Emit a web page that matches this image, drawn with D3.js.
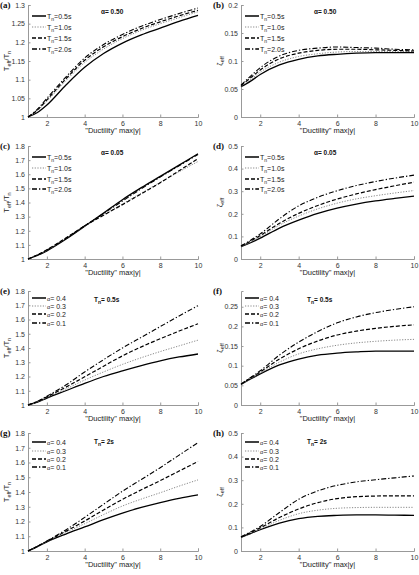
<!DOCTYPE html>
<html><head><meta charset="utf-8">
<script src="https://cdn.jsdelivr.net/npm/d3@7"></script>
<style>body{margin:0;background:#fff}svg{display:block}</style>
</head><body>
<svg id="c" width="419" height="575"></svg>
<script>
// ---------- data ----------
const ductility = [1, 1.5, 2, 3, 4, 5, 6, 7, 8, 9, 10];
const xTicks = [2, 4, 6, 8, 10];

const periodLabels = ["0.5s", "1.0s", "1.5s", "2.0s"];
const alphaLabels = ["0.4", "0.3", "0.2", "0.1"];

// (a) Teff/Tn, alpha = 0.50
const a_T05 = [1.0, 1.012, 1.032, 1.085, 1.133, 1.170, 1.198, 1.220, 1.238, 1.256, 1.272];
const a_T10 = [1.0, 1.017, 1.042, 1.097, 1.146, 1.182, 1.210, 1.232, 1.250, 1.266, 1.282];
const a_T15 = [1.0, 1.019, 1.046, 1.102, 1.152, 1.188, 1.215, 1.237, 1.255, 1.271, 1.286];
const a_T20 = [1.0, 1.021, 1.050, 1.107, 1.158, 1.194, 1.221, 1.243, 1.261, 1.277, 1.292];
// (b) zeta_eff, alpha = 0.50
const b_T05 = [0.054, 0.064, 0.076, 0.093, 0.103, 0.109, 0.112, 0.114, 0.115, 0.115, 0.115];
const b_T10 = [0.055, 0.067, 0.080, 0.098, 0.108, 0.113, 0.116, 0.117, 0.117, 0.117, 0.117];
const b_T15 = [0.056, 0.070, 0.084, 0.104, 0.114, 0.119, 0.121, 0.121, 0.120, 0.119, 0.118];
const b_T20 = [0.057, 0.073, 0.088, 0.109, 0.119, 0.123, 0.125, 0.124, 0.123, 0.121, 0.120];
// (c) Teff/Tn, alpha = 0.05
const c_T05 = [1.0, 1.025, 1.058, 1.140, 1.232, 1.325, 1.420, 1.505, 1.585, 1.665, 1.745];
const c_T10 = [1.0, 1.028, 1.062, 1.145, 1.232, 1.312, 1.390, 1.467, 1.543, 1.618, 1.690];
const c_T15 = [1.0, 1.030, 1.066, 1.148, 1.235, 1.310, 1.385, 1.462, 1.540, 1.625, 1.710];
const c_T20 = [1.0, 1.028, 1.063, 1.145, 1.235, 1.322, 1.410, 1.497, 1.580, 1.660, 1.740];
// (d) zeta_eff, alpha = 0.05
const d_T05 = [0.055, 0.072, 0.092, 0.137, 0.172, 0.202, 0.225, 0.243, 0.257, 0.268, 0.278];
const d_T10 = [0.056, 0.076, 0.099, 0.150, 0.190, 0.222, 0.247, 0.266, 0.280, 0.292, 0.303];
const d_T15 = [0.057, 0.079, 0.104, 0.158, 0.202, 0.237, 0.265, 0.288, 0.307, 0.324, 0.340];
const d_T20 = [0.058, 0.083, 0.111, 0.178, 0.235, 0.273, 0.302, 0.325, 0.343, 0.358, 0.371];
// (e) Teff/Tn, Tn = 0.5s
const e_a04 = [1.0, 1.020, 1.048, 1.100, 1.152, 1.200, 1.240, 1.277, 1.310, 1.337, 1.358];
const e_a03 = [1.0, 1.022, 1.053, 1.112, 1.175, 1.232, 1.285, 1.332, 1.375, 1.415, 1.455];
const e_a02 = [1.0, 1.024, 1.057, 1.125, 1.198, 1.272, 1.345, 1.408, 1.465, 1.519, 1.570];
const e_a01 = [1.0, 1.026, 1.062, 1.140, 1.232, 1.318, 1.400, 1.475, 1.550, 1.625, 1.697];
// (f) zeta_eff, Tn = 0.5s
const f_a04 = [0.052, 0.066, 0.079, 0.102, 0.117, 0.127, 0.132, 0.135, 0.137, 0.137, 0.137];
const f_a03 = [0.052, 0.067, 0.081, 0.109, 0.130, 0.143, 0.152, 0.158, 0.162, 0.165, 0.167];
const f_a02 = [0.053, 0.069, 0.084, 0.117, 0.143, 0.163, 0.178, 0.188, 0.195, 0.200, 0.204];
const f_a01 = [0.053, 0.070, 0.087, 0.127, 0.160, 0.187, 0.209, 0.224, 0.235, 0.243, 0.250];
// (g) Teff/Tn, Tn = 2s
const g_a04 = [1.0, 1.030, 1.062, 1.115, 1.163, 1.212, 1.257, 1.295, 1.328, 1.357, 1.380];
const g_a03 = [1.0, 1.030, 1.064, 1.125, 1.185, 1.247, 1.305, 1.352, 1.395, 1.440, 1.482];
const g_a02 = [1.0, 1.031, 1.066, 1.133, 1.203, 1.278, 1.350, 1.415, 1.477, 1.542, 1.607];
const g_a01 = [1.0, 1.032, 1.068, 1.143, 1.228, 1.317, 1.405, 1.485, 1.565, 1.650, 1.735];
// (h) zeta_eff, Tn = 2s
const h_a04 = [0.058, 0.074, 0.090, 0.118, 0.137, 0.147, 0.151, 0.153, 0.153, 0.152, 0.151];
const h_a03 = [0.058, 0.076, 0.094, 0.130, 0.158, 0.173, 0.181, 0.184, 0.185, 0.185, 0.185];
const h_a02 = [0.059, 0.078, 0.098, 0.142, 0.178, 0.205, 0.222, 0.230, 0.233, 0.234, 0.234];
const h_a01 = [0.060, 0.081, 0.104, 0.163, 0.219, 0.255, 0.278, 0.293, 0.302, 0.310, 0.318];

const ticksTeff = [1, 1.1, 1.2, 1.3, 1.4, 1.5, 1.6, 1.7, 1.8];
const ticksTeffA = [1, 1.05, 1.1, 1.15, 1.2, 1.25, 1.3];
const ticksZetaB = [0, 0.05, 0.1, 0.15, 0.2];
const ticksZetaF = [0, 0.05, 0.1, 0.15, 0.2, 0.25];
const ticksZeta5 = [0, 0.1, 0.2, 0.3, 0.4, 0.5];

// ---------- layout ----------
const cols = [{x0: 28, x1: 198}, {x0: 241, x1: 414}];
const rows = [{y0: 5, y1: 117}, {y0: 146, y1: 259}, {y0: 291, y1: 405}, {y0: 433, y1: 551}];

const styles = [
  {dash: null, color: "#000", w: 1.3},
  {dash: "1.2,1.5", color: "#888", w: 1},
  {dash: "4,2", color: "#000", w: 1.2},
  {dash: "5,2,1.3,2", color: "#000", w: 1.1}
];

const panels = [
  {lab: "(a)", r: 0, c: 0, yd: [1, 1.3], ticks: ticksTeffA, y: "T", series: [a_T05, a_T10, a_T15, a_T20], leg: "T", ann: "α= 0.50", legY: [11, 22, 33, 44]},
  {lab: "(b)", r: 0, c: 1, yd: [0, 0.2], ticks: ticksZetaB, y: "Z", series: [b_T05, b_T10, b_T15, b_T20], leg: "T", ann: "α= 0.50", legY: [11, 22, 33, 44]},
  {lab: "(c)", r: 1, c: 0, yd: [1, 1.8], ticks: ticksTeff, y: "T", series: [c_T05, c_T10, c_T15, c_T20], leg: "T", ann: "α= 0.05", legY: [11, 22, 33, 43]},
  {lab: "(d)", r: 1, c: 1, yd: [0, 0.5], ticks: ticksZeta5, y: "Z", series: [d_T05, d_T10, d_T15, d_T20], leg: "T", ann: "α= 0.05", legY: [11, 22, 33, 43]},
  {lab: "(e)", r: 2, c: 0, yd: [1, 1.8], ticks: ticksTeff, y: "T", series: [e_a04, e_a03, e_a02, e_a01], leg: "A", ann: "Tn= 0.5s", legY: [7, 15, 23, 32]},
  {lab: "(f)", r: 2, c: 1, yd: [0, 0.29], ticks: ticksZetaF, y: "Z", series: [f_a04, f_a03, f_a02, f_a01], leg: "A", ann: "Tn= 0.5s", legY: [7, 15, 23, 32]},
  {lab: "(g)", r: 3, c: 0, yd: [1, 1.8], ticks: ticksTeff, y: "T", series: [g_a04, g_a03, g_a02, g_a01], leg: "A", ann: "Tn= 2s", legY: [9, 18, 26, 34]},
  {lab: "(h)", r: 3, c: 1, yd: [0, 0.5], ticks: ticksZeta5, y: "Z", series: [h_a04, h_a03, h_a02, h_a01], leg: "A", ann: "Tn= 2s", legY: [9, 18, 26, 34]}
];

const svg = d3.select("#c");
const FONT = "Liberation Sans, Arial, sans-serif";

panels.forEach(p => {
  const C = cols[p.c], R = rows[p.r];
  const x = d3.scaleLinear().domain([1, 10]).range([C.x0, C.x1]);
  const y = d3.scaleLinear().domain(p.yd).range([R.y1, R.y0]);
  const g = svg.append("g");

  // axes
  const ax = g.append("g").attr("transform", `translate(0,${R.y1})`)
    .call(d3.axisBottom(x).tickValues(xTicks).tickSize(-2.5).tickPadding(4).tickFormat(d3.format("d")));
  const ay = g.append("g").attr("transform", `translate(${C.x0},0)`)
    .call(d3.axisLeft(y).tickValues(p.ticks).tickSize(-2.5).tickPadding(3).tickFormat(d => String(+d.toFixed(2))));
  [ax, ay].forEach(a => {
    a.select(".domain").attr("stroke", "#999").attr("stroke-width", 1);
    a.selectAll(".tick line").attr("stroke", "#999");
    a.selectAll("text").attr("font-family", FONT).attr("font-size", 7).attr("fill", "#333");
  });

  // lines
  const line = d3.line().x((d, i) => x(ductility[i])).y(d => y(d)).curve(d3.curveMonotoneX);
  p.series.forEach((s, i) => {
    const st = styles[i];
    g.append("path").datum(s).attr("d", line).attr("fill", "none")
      .attr("stroke", st.color).attr("stroke-width", st.w)
      .attr("stroke-dasharray", st.dash);
  });

  // legend
  const lx = C.x0 + 4;
  p.legY.forEach((dy, i) => {
    const st = styles[i];
    const yy = R.y0 + dy;
    g.append("line").attr("x1", lx).attr("x2", lx + 14).attr("y1", yy).attr("y2", yy)
      .attr("stroke", st.color).attr("stroke-width", st.w + 0.2).attr("stroke-dasharray", st.dash);
    const t = g.append("text").attr("x", lx + 15).attr("y", yy + 2.5)
      .attr("font-family", FONT).attr("font-size", 7).attr("fill", "#222");
    if (p.leg === "T") {
      t.append("tspan").text("T");
      t.append("tspan").attr("font-size", 5).attr("dy", 2).text("n");
      t.append("tspan").attr("dy", -2).text("=" + periodLabels[i]);
    } else {
      t.append("tspan").attr("font-size", 5.5).text("α");
      t.append("tspan").text("= " + alphaLabels[i]);
    }
  });

  // annotation
  const an = g.append("text").attr("x", C.x0 + (p.leg === "T" ? 73 : 66)).attr("y", R.y0 + (p.leg === "T" ? 9 : 11))
    .attr("font-family", FONT).attr("font-size", 6.5).attr("font-weight", "bold").attr("fill", "#111");
  if (p.ann.startsWith("Tn")) {
    an.append("tspan").text("T");
    an.append("tspan").attr("font-size", 5).attr("dy", 2).text("n");
    an.append("tspan").attr("dy", -2).text(p.ann.slice(2));
  } else {
    an.text(p.ann);
  }

  // panel label
  svg.append("text").attr("x", C.x0 - 28).attr("y", R.y0 + 3)
    .attr("font-family", "Liberation Serif, Times New Roman, serif").attr("font-weight", "bold")
    .attr("font-size", 9).attr("fill", "#111").text(p.lab);

  // x label
  svg.append("text").attr("x", (C.x0 + C.x1) / 2).attr("y", R.y1 + 16).attr("text-anchor", "middle")
    .attr("font-family", FONT).attr("font-size", 7.5).attr("fill", "#222").text("\"Ductility\" max|y|");

  // y label
  const yl = svg.append("text").attr("transform", `translate(${C.x0 - 19},${(R.y0 + R.y1) / 2}) rotate(-90)`)
    .attr("text-anchor", "middle").attr("font-family", FONT).attr("font-size", 7.5).attr("fill", "#222");
  if (p.y === "T") {
    yl.append("tspan").text("T");
    yl.append("tspan").attr("font-size", 5.5).attr("dy", 2).text("eff");
    yl.append("tspan").attr("dy", -2).text("/T");
    yl.append("tspan").attr("font-size", 5.5).attr("dy", 2).text("n");
  } else {
    yl.append("tspan").text("ζ");
    yl.append("tspan").attr("font-size", 5.5).attr("dy", 2).text("eff");
  }
});
</script>
</body></html>
